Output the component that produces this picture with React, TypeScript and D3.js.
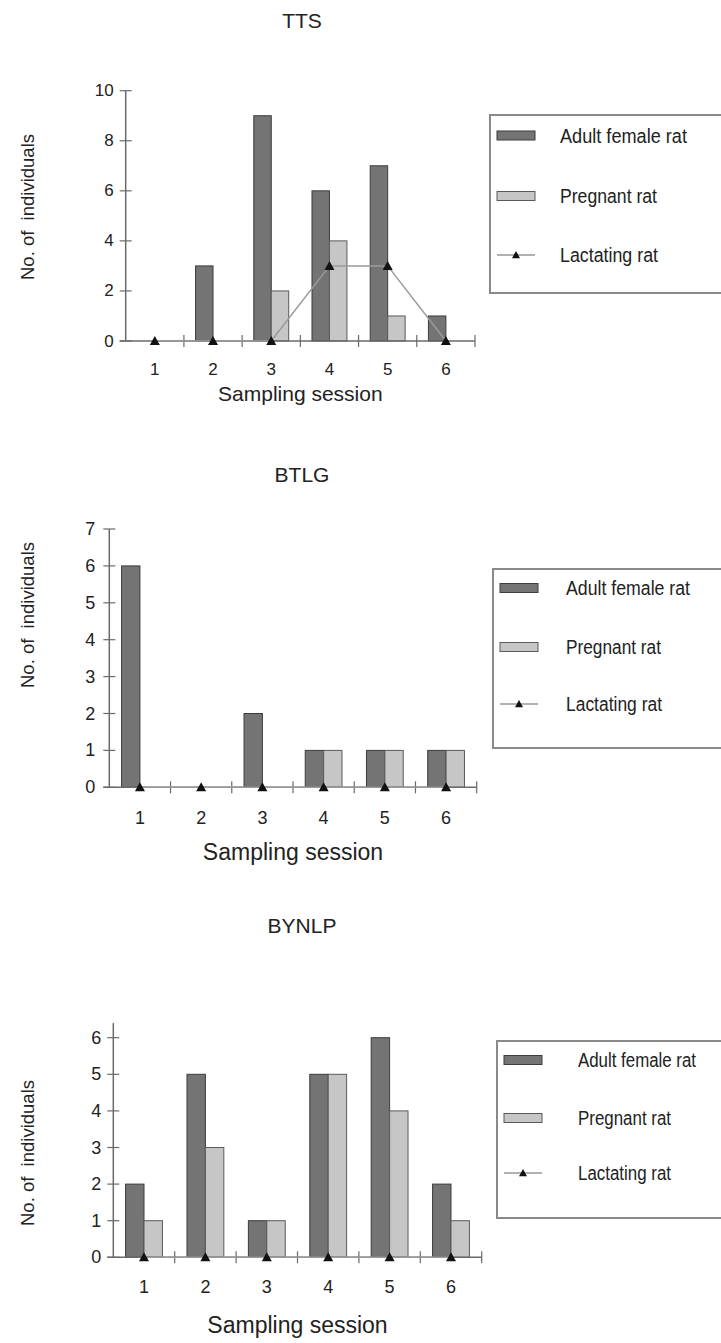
import React from "react";
import * as d3 from "d3";

const sessions = ["1", "2", "3", "4", "5", "6"];
const seriesNames = ["Adult female rat", "Pregnant rat", "Lactating rat"];

const ttsAdult = [0, 3, 9, 6, 7, 1];
const ttsPregnant = [0, 0, 2, 4, 1, 0];
const ttsLactating = [0, 0, 0, 3, 3, 0];
const ttsTicks = [0, 2, 4, 6, 8, 10];

const btlgAdult = [6, 0, 2, 1, 1, 1];
const btlgPregnant = [0, 0, 0, 1, 1, 1];
const btlgLactating = [0, 0, 0, 0, 0, 0];
const btlgTicks = [0, 1, 2, 3, 4, 5, 6, 7];

const bynlpAdult = [2, 5, 1, 5, 6, 2];
const bynlpPregnant = [1, 3, 1, 5, 4, 1];
const bynlpLactating = [0, 0, 0, 0, 0, 0];
const bynlpTicks = [0, 1, 2, 3, 4, 5, 6];

const ADULT_FILL = "#747474";
const ADULT_STROKE = "#3c3c3c";
const PREG_FILL = "#c6c6c6";
const PREG_STROKE = "#5a5a5a";
const AXIS = "#6a6a6a";
const TEXT = "#222";
const FONT = "'Liberation Sans', Arial, sans-serif";
const NARROW = "'Liberation Sans Narrow', 'Arial Narrow', 'Liberation Sans', sans-serif";

type Panel = {
  title: string;
  titleY: number;
  adult: number[];
  pregnant: number[];
  lactating: number[];
  ticks: number[];
  yMax: number;
  axisTop: number;
  x0: number;
  x1: number;
  y0: number;
  yTop: number;
  ylabX: number;
  ylabY: number;
  tickLabelY: number;
  tickSize: number;
  xTitleY: number;
  xTitleSize: number;
  tickLabelGap: number;
  legend: { x: number; y: number; h: number; textX: number; rows: number[]; widths: number[] };
};

const panels: Panel[] = [
  {
    title: "TTS", titleY: 28, adult: ttsAdult, pregnant: ttsPregnant, lactating: ttsLactating,
    ticks: ttsTicks, yMax: 10, axisTop: 10, x0: 125.7, x1: 475, y0: 341, yTop: 90.7,
    ylabX: 27, ylabY: 207, tickLabelY: 375, tickSize: 17, xTitleY: 401, xTitleSize: 21, tickLabelGap: 12,
    legend: { x: 490, y: 115, h: 178, textX: 560, rows: [135.5, 196, 255], widths: [127, 97, 98] },
  },
  {
    title: "BTLG", titleY: 482, adult: btlgAdult, pregnant: btlgPregnant, lactating: btlgLactating,
    ticks: btlgTicks, yMax: 7, axisTop: 7, x0: 109.3, x1: 476.7, y0: 787.3, yTop: 529,
    ylabX: 27, ylabY: 615, tickLabelY: 824, tickSize: 18, xTitleY: 860, xTitleSize: 23, tickLabelGap: 14,
    legend: { x: 493, y: 569, h: 179, textX: 566, rows: [588, 647, 704], widths: [124, 95, 96] },
  },
  {
    title: "BYNLP", titleY: 933, adult: bynlpAdult, pregnant: bynlpPregnant, lactating: bynlpLactating,
    ticks: bynlpTicks, yMax: 6, axisTop: 6.4, x0: 113.3, x1: 481.7, y0: 1257.3, yTop: 1037.7,
    ylabX: 27, ylabY: 1153, tickLabelY: 1293, tickSize: 18, xTitleY: 1333, xTitleSize: 23, tickLabelGap: 12,
    legend: { x: 497, y: 1041, h: 177, textX: 578, rows: [1060, 1118, 1173], widths: [118, 93, 93] },
  },
];

function Tri({ x, y, s = 5 }: { x: number; y: number; s?: number }) {
  return <path d={`M${x},${y - s} L${x + s},${y + s * 0.8} L${x - s},${y + s * 0.8} Z`} fill="#111" />;
}

function ChartPanel({ p }: { p: Panel }) {
  const x = d3.scaleBand<string>().domain(sessions).range([p.x0, p.x1]).paddingInner(0).paddingOuter(0);
  const y = d3.scaleLinear().domain([0, p.yMax]).range([p.y0, p.yTop]);
  const bw = x.bandwidth();
  const sub = d3.scaleBand<string>().domain(["adult", "pregnant"]).range([0, bw]).paddingInner(0).paddingOuter(2 / 3);
  const cx = (s: string) => (x(s) as number) + bw / 2;
  const line = d3.line<number>().x((_, i) => cx(sessions[i])).y((v) => y(v));
  const L = p.legend;
  const midX = (p.x0 + p.x1) / 2;
  return (
    <g>
      <text x={302} y={p.titleY} textAnchor="middle" fontFamily={FONT} fontSize={21} fill={TEXT}>{p.title}</text>
      <text transform={`translate(${p.ylabX},${p.ylabY}) rotate(-90)`} textAnchor="middle" dominantBaseline="central"
        fontFamily={FONT} fontSize={18.5} fill={TEXT} style={{ whiteSpace: "pre" }}>{"No. of  individuals"}</text>
      {sessions.map((s, i) => (
        <g key={s}>
          {p.adult[i] > 0 && (
            <rect x={(x(s) as number) + (sub("adult") as number)} y={y(p.adult[i])} width={sub.bandwidth()}
              height={p.y0 - y(p.adult[i])} fill={ADULT_FILL} stroke={ADULT_STROKE} strokeWidth={1} />
          )}
          {p.pregnant[i] > 0 && (
            <rect x={(x(s) as number) + (sub("pregnant") as number)} y={y(p.pregnant[i])} width={sub.bandwidth()}
              height={p.y0 - y(p.pregnant[i])} fill={PREG_FILL} stroke={PREG_STROKE} strokeWidth={1} />
          )}
        </g>
      ))}
      <line x1={p.x0} x2={p.x0} y1={p.y0} y2={y(p.axisTop)} stroke={AXIS} strokeWidth={1.5} />
      <line x1={p.x0 - 6} x2={p.x1} y1={p.y0} y2={p.y0} stroke={AXIS} strokeWidth={1.5} />
      {p.ticks.map((t) => (
        <g key={t}>
          <line x1={p.x0 - 6} x2={p.x0 + 6} y1={y(t)} y2={y(t)} stroke={AXIS} strokeWidth={1.2} />
          <text x={p.x0 - p.tickLabelGap} y={y(t)} textAnchor="end" dominantBaseline="central"
            fontFamily={FONT} fontSize={p.tickSize} fill={TEXT}>{t}</text>
        </g>
      ))}
      {sessions.map((s) => (
        <g key={"xt" + s}>
          <line x1={(x(s) as number) + bw} x2={(x(s) as number) + bw} y1={p.y0 - 6} y2={p.y0 + 6} stroke={AXIS} strokeWidth={1.2} />
          <text x={cx(s)} y={p.tickLabelY} textAnchor="middle" fontFamily={FONT} fontSize={p.tickSize} fill={TEXT}>{s}</text>
        </g>
      ))}
      <text x={midX} y={p.xTitleY} textAnchor="middle" fontFamily={FONT} fontSize={p.xTitleSize} fill={TEXT}>Sampling session</text>
      <path d={line(p.lactating) || ""} fill="none" stroke="#9a9a9a" strokeWidth={1.5} />
      {p.lactating.map((v, i) => <Tri key={"t" + i} x={cx(sessions[i])} y={y(v)} />)}
      <rect x={L.x} y={L.y} width={260} height={L.h} fill="none" stroke="#8a8a8a" strokeWidth={2} />
      <rect x={L.x + 7} y={L.rows[0] - 4.5} width={38} height={9} fill={ADULT_FILL} stroke={ADULT_STROKE} strokeWidth={1} />
      <rect x={L.x + 7} y={L.rows[1] - 4.5} width={38} height={9} fill={PREG_FILL} stroke={PREG_STROKE} strokeWidth={1} />
      <line x1={L.x + 7} x2={L.x + 45} y1={L.rows[2]} y2={L.rows[2]} stroke="#666" strokeWidth={1.2} />
      <Tri x={L.x + 26} y={L.rows[2]} s={4} />
      {seriesNames.map((n, i) => (
        <text key={n} x={L.textX} y={L.rows[i]} dominantBaseline="central" fontFamily={NARROW} fontSize={20}
          fill={TEXT} textLength={L.widths[i]} lengthAdjust="spacingAndGlyphs">{n}</text>
      ))}
    </g>
  );
}

export default function App() {
  return (
    <svg width={721} height={1343} viewBox="0 0 721 1343"
      style={{ position: "absolute", left: 0, top: 0, background: "#fff", display: "block" }}>
      <rect width={721} height={1343} fill="#fff" />
      {panels.map((p) => <ChartPanel key={p.title} p={p} />)}
    </svg>
  );
}
